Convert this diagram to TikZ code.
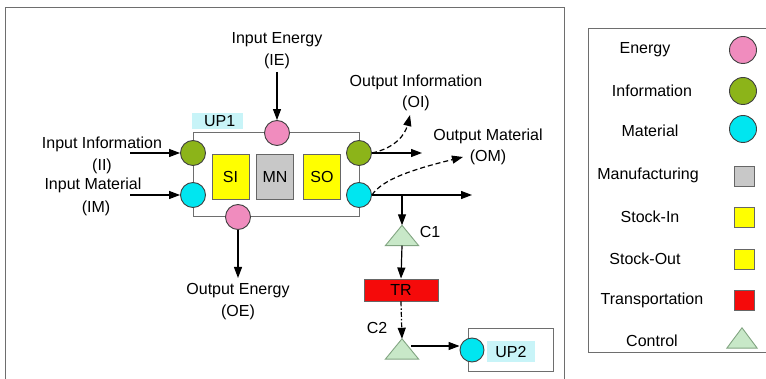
\documentclass[tikz,border=0pt]{standalone}
\usepackage{fontspec}
\setmainfont{Liberation Sans}
\usetikzlibrary{arrows.meta}
\definecolor{epink}{RGB}{240,140,190}
\definecolor{igreen}{RGB}{140,180,25}
\definecolor{mcyan}{RGB}{0,230,240}
\definecolor{syellow}{RGB}{255,255,0}
\definecolor{mgray}{RGB}{200,200,200}
\definecolor{tred}{RGB}{245,10,10}
\definecolor{cgreen}{RGB}{200,232,200}
\definecolor{cedge}{RGB}{130,165,130}
\definecolor{lblbg}{RGB}{200,244,248}
\definecolor{frame}{RGB}{110,110,110}
\tikzset{
  txt/.style={font=\fontsize{16}{18}\selectfont, inner sep=0pt, text=black},
  flow/.style={circle, draw=black!75, line width=0.9pt, minimum size=25pt, inner sep=0pt},
  energy/.style={flow, fill=epink},
  info/.style={flow, fill=igreen},
  mat/.style={flow, fill=mcyan},
  proc/.style={draw=black!60, line width=0.9pt, minimum width=37pt, minimum height=45pt, inner sep=0pt, font=\fontsize{16}{18}\selectfont},
  leg/.style={draw=black!60, line width=0.9pt, minimum size=20pt, inner sep=0pt},
  ctrlbox/.style={minimum width=33pt, minimum height=20pt, inner sep=0pt},
  tri/.style={fill=cgreen, draw=cedge, line width=0.9pt},
  arr/.style={-{Triangle[length=11pt,width=8pt]}, line width=1.2pt, black},
  darr/.style={arr, dash pattern=on 5pt off 3pt},
  ddarr/.style={arr, dash pattern=on 5pt off 2pt on 1.5pt off 2pt},
  boxline/.style={draw=frame, line width=1pt},
  lbl/.style={txt, fill=lblbg, inner xsep=4pt, inner ysep=2pt}
}
\begin{document}
\begin{tikzpicture}[x=1pt,y=-1pt]
\useasboundingbox (0,0) rectangle (766,379);
\fill[white] (0,0) rectangle (766,379);
% outer frames
\draw[boxline] (5,380) -- (5,8) -- (564,8) -- (564,380);
\draw[boxline] (768,29) -- (588,29) -- (588,353) -- (768,353);

% UP1 box
\node[boxline, draw, minimum width=166pt, minimum height=84pt, inner sep=0pt] (up1) at (276,175) {};
\node[lbl, anchor=west, minimum width=51pt, minimum height=16pt] (up1l) at (192,121) {\hspace*{4pt}UP1\hfill};
\node[proc, fill=syellow] (si) at (230.5,177) {SI};
\node[proc, fill=mgray] (mn) at (275,177) {MN};
\node[proc, fill=syellow] (so) at (322,177) {SO};

\node[energy] (ein) at (277,133) {};
\node[energy] (eout) at (238,217) {};
\node[info] (iin) at (193,153) {};
\node[mat] (min) at (193,195) {};
\node[info] (iout) at (359,153) {};
\node[mat] (mout) at (359,195) {};

% labels
\node[txt] (ie1) at (277,40) {Input Energy};
\node[txt] (ie2) at (277,61) {(IE)};
\node[txt] (ii1) at (102,144) {Input Information};
\node[txt] (ii2) at (102,166) {(II)};
\node[txt] (im1) at (93,185) {Input Material};
\node[txt] (im2) at (96,208) {(IM)};
\node[txt] (oe1) at (238,291) {Output Energy};
\node[txt] (oe2) at (238,312) {(OE)};
\node[txt] (oi1) at (416,82) {Output Information};
\node[txt] (oi2) at (416,103) {(OI)};
\node[txt] (om1) at (488,136) {Output Material};
\node[txt] (om2) at (488,157) {(OM)};

\coordinate (ietop) at (277,72);
\coordinate (iistart) at (130,153);
\coordinate (imstart) at (130,195);
\coordinate (oeend) at (238,278);
\coordinate (oiend) at (410,115);
\coordinate (omend) at (463,157);
\coordinate (iend) at (422,153);
\coordinate (mend) at (472,195);
\coordinate (branch) at (402,195);

\draw[arr] (ietop) -- (ein.north);
\draw[arr] (iistart) -- (iin.west);
\draw[arr] (imstart) -- (min.west);
\draw[arr] (eout.south) -- (oeend);
\draw[arr] (iout.east) -- (iend);
\draw[arr] (mout.east) -- (mend);
\draw[darr] (iout.east) .. controls (395,148) and (405,135) .. (oiend);
\draw[darr] (mout.east) .. controls (382,180) and (410,170) .. (omend);

% transport chain
\node[ctrlbox] (c1) at (402,235.5) {};
\draw[tri] (c1.south west) -- (c1.south east) -- (c1.north) -- cycle;
\node[txt] (c1l) at (430,232) {C1};
\draw[arr] (branch) -- (c1.north);

\node[draw=black!60, line width=0.9pt, fill=tred, minimum width=74pt, minimum height=22pt, inner sep=0pt, font=\fontsize{16}{18}\selectfont] (tr) at (401,290) {TR};
\draw[arr] (c1.south) -- (tr.north);

\node[ctrlbox] (c2) at (402,349) {};
\draw[tri] (c2.south west) -- (c2.south east) -- (c2.north) -- cycle;
\node[txt] (c2l) at (377,328) {C2};
\draw[ddarr] (tr.south) -- (c2.north);

% UP2
\draw[boxline] (553,362) -- (553,329) -- (468,329) -- (468,372) -- (553,372) -- (553,362);
\node[lbl, minimum width=48pt, minimum height=21pt] (up2l) at (511,352) {UP2};
\node[mat, minimum size=24pt] (up2) at (472,350) {};
\coordinate (c2r) at (411,346);
\draw[arr] (c2r) -- (up2.west |- c2r);

% legend
\node[txt] (l1) at (645,50) {Energy};
\node[txt] (l2) at (652,91) {Information};
\node[txt] (l3) at (650,131) {Material};
\node[txt] (l4) at (648,175) {Manufacturing};
\node[txt] (l5) at (650,217) {Stock-In};
\node[txt] (l6) at (645,259) {Stock-Out};
\node[txt] (l7) at (652,300) {Transportation};
\node[txt] (l8) at (652,341) {Control};
\node[energy, minimum size=27pt] (s1) at (743,50) {};
\node[info, minimum size=27pt] (s2) at (743,91) {};
\node[mat, minimum size=27pt] (s3) at (743,129) {};
\node[leg, fill=mgray] (s4) at (744,176) {};
\node[leg, fill=syellow] (s5) at (744,217) {};
\node[leg, fill=syellow] (s6) at (744,259) {};
\node[leg, fill=tred] (s7) at (744,300) {};
\node[minimum width=30pt, minimum height=20pt, inner sep=0pt] (s8) at (742,338) {};
\draw[tri] (s8.south west) -- (s8.south east) -- (s8.north) -- cycle;
\end{tikzpicture}
\end{document}
